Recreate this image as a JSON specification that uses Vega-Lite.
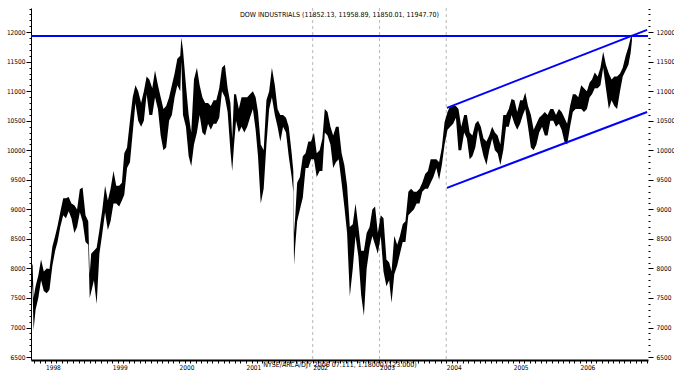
{
  "$schema": "https://vega.github.io/schema/vega-lite/v6.json",
  "width": 617,
  "height": 352,
  "autosize": "none",
  "padding": {"left": 31, "top": 8, "right": 26, "bottom": 11},
  "background": "white",
  "config": {
    "view": {"stroke": null},
    "font": "DejaVu Sans Condensed",
    "axis": {"labelFontSize": 6.5, "labelFont": "DejaVu Sans Condensed", "labelColor": "black", "tickColor": "black", "domainColor": "black", "grid": false, "titleFontWeight": "normal"}
  },
  "title": {"text": "DOW INDUSTRIALS (11852.13, 11958.89, 11850.01, 11947.70)", "fontSize": 7, "fontWeight": "normal", "offset": -12, "anchor": "middle", "color": "black", "font": "DejaVu Sans Condensed"},
  "datasets": {
    "price": [
      {"d":"1997-10-14","lo":7920,"hi":8120},
      {"d":"1997-10-23","lo":7600,"hi":8050},
      {"d":"1997-10-28","lo":6960,"hi":7500},
      {"d":"1997-11-08","lo":7300,"hi":7700},
      {"d":"1997-11-23","lo":7500,"hi":7880},
      {"d":"1997-12-08","lo":7800,"hi":8150},
      {"d":"1997-12-23","lo":7620,"hi":7950},
      {"d":"1998-01-08","lo":7580,"hi":8000},
      {"d":"1998-01-23","lo":7640,"hi":7990},
      {"d":"1998-02-08","lo":8050,"hi":8370},
      {"d":"1998-02-23","lo":8300,"hi":8550},
      {"d":"1998-03-08","lo":8450,"hi":8720},
      {"d":"1998-03-23","lo":8700,"hi":8950},
      {"d":"1998-04-08","lo":8900,"hi":9190},
      {"d":"1998-04-23","lo":8850,"hi":9190},
      {"d":"1998-05-08","lo":8970,"hi":9210},
      {"d":"1998-05-23","lo":8850,"hi":9100},
      {"d":"1998-06-08","lo":8600,"hi":9070},
      {"d":"1998-06-23","lo":8700,"hi":9000},
      {"d":"1998-07-08","lo":8950,"hi":9340},
      {"d":"1998-07-23","lo":8800,"hi":9370},
      {"d":"1998-08-08","lo":8450,"hi":8900},
      {"d":"1998-08-23","lo":8400,"hi":8800},
      {"d":"1998-08-31","lo":7500,"hi":7900},
      {"d":"1998-09-08","lo":7600,"hi":8250},
      {"d":"1998-09-23","lo":7800,"hi":8300},
      {"d":"1998-10-08","lo":7400,"hi":8350},
      {"d":"1998-10-23","lo":8250,"hi":8650},
      {"d":"1998-11-08","lo":8600,"hi":9000},
      {"d":"1998-11-23","lo":8950,"hi":9400},
      {"d":"1998-12-08","lo":8650,"hi":9150},
      {"d":"1998-12-23","lo":8800,"hi":9350},
      {"d":"1999-01-08","lo":9100,"hi":9650},
      {"d":"1999-01-23","lo":9100,"hi":9400},
      {"d":"1999-02-08","lo":9050,"hi":9400},
      {"d":"1999-02-23","lo":9150,"hi":9450},
      {"d":"1999-03-08","lo":9250,"hi":9950},
      {"d":"1999-03-23","lo":9700,"hi":10050},
      {"d":"1999-04-08","lo":9800,"hi":10500},
      {"d":"1999-04-23","lo":10300,"hi":10900},
      {"d":"1999-05-08","lo":10800,"hi":11100},
      {"d":"1999-05-23","lo":10500,"hi":11000},
      {"d":"1999-06-08","lo":10400,"hi":10800},
      {"d":"1999-06-23","lo":10500,"hi":11000},
      {"d":"1999-07-08","lo":10950,"hi":11250},
      {"d":"1999-07-23","lo":10600,"hi":11200},
      {"d":"1999-08-08","lo":10600,"hi":11050},
      {"d":"1999-08-23","lo":10900,"hi":11350},
      {"d":"1999-09-08","lo":10700,"hi":11100},
      {"d":"1999-09-23","lo":10250,"hi":10900},
      {"d":"1999-10-08","lo":10000,"hi":10700},
      {"d":"1999-10-23","lo":10050,"hi":10750},
      {"d":"1999-11-08","lo":10500,"hi":10900},
      {"d":"1999-11-23","lo":10600,"hi":11100},
      {"d":"1999-12-08","lo":10900,"hi":11300},
      {"d":"1999-12-23","lo":11100,"hi":11550},
      {"d":"2000-01-08","lo":11000,"hi":11600},
      {"d":"2000-01-14","lo":11500,"hi":11910},
      {"d":"2000-01-23","lo":10600,"hi":11700},
      {"d":"2000-02-08","lo":10400,"hi":11100},
      {"d":"2000-02-23","lo":9900,"hi":10600},
      {"d":"2000-03-08","lo":9730,"hi":10300},
      {"d":"2000-03-23","lo":10100,"hi":11200},
      {"d":"2000-04-08","lo":10300,"hi":11400},
      {"d":"2000-04-23","lo":10600,"hi":11100},
      {"d":"2000-05-08","lo":10300,"hi":10900},
      {"d":"2000-05-23","lo":10250,"hi":10800},
      {"d":"2000-06-08","lo":10450,"hi":10800},
      {"d":"2000-06-23","lo":10350,"hi":10750},
      {"d":"2000-07-08","lo":10450,"hi":10850},
      {"d":"2000-07-23","lo":10450,"hi":10850},
      {"d":"2000-08-08","lo":10550,"hi":11050},
      {"d":"2000-08-23","lo":11000,"hi":11400},
      {"d":"2000-09-08","lo":10900,"hi":11450},
      {"d":"2000-09-23","lo":10650,"hi":11050},
      {"d":"2000-10-08","lo":10000,"hi":10800},
      {"d":"2000-10-18","lo":9650,"hi":10200},
      {"d":"2000-10-28","lo":10100,"hi":10950},
      {"d":"2000-11-08","lo":10500,"hi":10950},
      {"d":"2000-11-23","lo":10300,"hi":10700},
      {"d":"2000-12-08","lo":10400,"hi":10900},
      {"d":"2000-12-23","lo":10300,"hi":10900},
      {"d":"2001-01-08","lo":10400,"hi":10900},
      {"d":"2001-01-23","lo":10550,"hi":10950},
      {"d":"2001-02-08","lo":10700,"hi":11000},
      {"d":"2001-02-23","lo":10350,"hi":10900},
      {"d":"2001-03-08","lo":9900,"hi":10650},
      {"d":"2001-03-23","lo":9100,"hi":10100},
      {"d":"2001-04-08","lo":9350,"hi":10000},
      {"d":"2001-04-23","lo":10100,"hi":10850},
      {"d":"2001-05-08","lo":10700,"hi":11000},
      {"d":"2001-05-23","lo":10900,"hi":11400},
      {"d":"2001-06-08","lo":10600,"hi":11100},
      {"d":"2001-06-23","lo":10400,"hi":10700},
      {"d":"2001-07-08","lo":10150,"hi":10600},
      {"d":"2001-07-23","lo":10400,"hi":10600},
      {"d":"2001-08-08","lo":10300,"hi":10550},
      {"d":"2001-08-23","lo":9900,"hi":10400},
      {"d":"2001-09-08","lo":9550,"hi":9950},
      {"d":"2001-09-17","lo":9300,"hi":9650},
      {"d":"2001-09-21","lo":8060,"hi":8600},
      {"d":"2001-09-28","lo":8400,"hi":8900},
      {"d":"2001-10-08","lo":8800,"hi":9450},
      {"d":"2001-10-23","lo":9000,"hi":9550},
      {"d":"2001-11-08","lo":9200,"hi":9900},
      {"d":"2001-11-23","lo":9700,"hi":9950},
      {"d":"2001-12-08","lo":9700,"hi":10150},
      {"d":"2001-12-23","lo":9850,"hi":10150},
      {"d":"2002-01-08","lo":9850,"hi":10300},
      {"d":"2002-01-23","lo":9550,"hi":9950},
      {"d":"2002-02-08","lo":9650,"hi":10000},
      {"d":"2002-02-23","lo":9650,"hi":10200},
      {"d":"2002-03-08","lo":10300,"hi":10700},
      {"d":"2002-03-23","lo":10250,"hi":10650},
      {"d":"2002-04-08","lo":10100,"hi":10400},
      {"d":"2002-04-23","lo":9700,"hi":10250},
      {"d":"2002-05-08","lo":9800,"hi":10400},
      {"d":"2002-05-23","lo":9850,"hi":10400},
      {"d":"2002-06-08","lo":9450,"hi":9950},
      {"d":"2002-06-23","lo":9050,"hi":9750},
      {"d":"2002-07-08","lo":8600,"hi":9400},
      {"d":"2002-07-23","lo":7530,"hi":8700},
      {"d":"2002-08-08","lo":8000,"hi":8750},
      {"d":"2002-08-23","lo":8550,"hi":9100},
      {"d":"2002-09-08","lo":8200,"hi":8700},
      {"d":"2002-09-23","lo":7550,"hi":8300},
      {"d":"2002-10-08","lo":7200,"hi":8300},
      {"d":"2002-10-23","lo":8000,"hi":8600},
      {"d":"2002-11-08","lo":8350,"hi":8700},
      {"d":"2002-11-23","lo":8550,"hi":9000},
      {"d":"2002-12-08","lo":8400,"hi":9050},
      {"d":"2002-12-23","lo":8250,"hi":8600},
      {"d":"2003-01-08","lo":8550,"hi":8900},
      {"d":"2003-01-23","lo":7950,"hi":8850},
      {"d":"2003-02-08","lo":7700,"hi":8150},
      {"d":"2003-02-23","lo":7800,"hi":8100},
      {"d":"2003-03-08","lo":7420,"hi":7950},
      {"d":"2003-03-23","lo":7900,"hi":8550},
      {"d":"2003-04-08","lo":8050,"hi":8400},
      {"d":"2003-04-23","lo":8250,"hi":8550},
      {"d":"2003-05-08","lo":8450,"hi":8750},
      {"d":"2003-05-23","lo":8450,"hi":8800},
      {"d":"2003-06-08","lo":8900,"hi":9300},
      {"d":"2003-06-23","lo":8950,"hi":9350},
      {"d":"2003-07-08","lo":9000,"hi":9300},
      {"d":"2003-07-23","lo":9100,"hi":9300},
      {"d":"2003-08-08","lo":9100,"hi":9350},
      {"d":"2003-08-23","lo":9300,"hi":9450},
      {"d":"2003-09-08","lo":9350,"hi":9600},
      {"d":"2003-09-23","lo":9350,"hi":9650},
      {"d":"2003-10-08","lo":9450,"hi":9850},
      {"d":"2003-10-23","lo":9550,"hi":9850},
      {"d":"2003-11-08","lo":9700,"hi":9850},
      {"d":"2003-11-23","lo":9500,"hi":9800},
      {"d":"2003-12-08","lo":9750,"hi":10050},
      {"d":"2003-12-23","lo":10100,"hi":10480},
      {"d":"2004-01-08","lo":10350,"hi":10650},
      {"d":"2004-01-23","lo":10400,"hi":10750},
      {"d":"2004-02-08","lo":10450,"hi":10750},
      {"d":"2004-02-23","lo":10550,"hi":10750},
      {"d":"2004-03-08","lo":10000,"hi":10700},
      {"d":"2004-03-23","lo":10000,"hi":10400},
      {"d":"2004-04-08","lo":10300,"hi":10600},
      {"d":"2004-04-23","lo":10200,"hi":10600},
      {"d":"2004-05-08","lo":9850,"hi":10300},
      {"d":"2004-05-23","lo":9900,"hi":10250},
      {"d":"2004-06-08","lo":10050,"hi":10450},
      {"d":"2004-06-23","lo":10350,"hi":10500},
      {"d":"2004-07-08","lo":10100,"hi":10400},
      {"d":"2004-07-23","lo":9900,"hi":10200},
      {"d":"2004-08-08","lo":9750,"hi":10150},
      {"d":"2004-08-23","lo":10000,"hi":10250},
      {"d":"2004-09-08","lo":10200,"hi":10400},
      {"d":"2004-09-23","lo":10000,"hi":10300},
      {"d":"2004-10-08","lo":9950,"hi":10250},
      {"d":"2004-10-23","lo":9750,"hi":10100},
      {"d":"2004-11-08","lo":10000,"hi":10600},
      {"d":"2004-11-23","lo":10400,"hi":10600},
      {"d":"2004-12-08","lo":10400,"hi":10700},
      {"d":"2004-12-23","lo":10600,"hi":10870},
      {"d":"2005-01-08","lo":10450,"hi":10850},
      {"d":"2005-01-23","lo":10350,"hi":10650},
      {"d":"2005-02-08","lo":10450,"hi":10850},
      {"d":"2005-02-23","lo":10600,"hi":10850},
      {"d":"2005-03-08","lo":10700,"hi":10980},
      {"d":"2005-03-23","lo":10400,"hi":10750},
      {"d":"2005-04-08","lo":10050,"hi":10600},
      {"d":"2005-04-23","lo":10000,"hi":10350},
      {"d":"2005-05-08","lo":10100,"hi":10450},
      {"d":"2005-05-23","lo":10300,"hi":10550},
      {"d":"2005-06-08","lo":10400,"hi":10600},
      {"d":"2005-06-23","lo":10250,"hi":10650},
      {"d":"2005-07-08","lo":10250,"hi":10600},
      {"d":"2005-07-23","lo":10500,"hi":10700},
      {"d":"2005-08-08","lo":10500,"hi":10700},
      {"d":"2005-08-23","lo":10400,"hi":10600},
      {"d":"2005-09-08","lo":10450,"hi":10700},
      {"d":"2005-09-23","lo":10350,"hi":10650},
      {"d":"2005-10-08","lo":10150,"hi":10550},
      {"d":"2005-10-23","lo":10100,"hi":10450},
      {"d":"2005-11-08","lo":10400,"hi":10750},
      {"d":"2005-11-23","lo":10650,"hi":10950},
      {"d":"2005-12-08","lo":10700,"hi":10950},
      {"d":"2005-12-23","lo":10700,"hi":10900},
      {"d":"2006-01-08","lo":10700,"hi":11100},
      {"d":"2006-01-23","lo":10650,"hi":11050},
      {"d":"2006-02-08","lo":10700,"hi":11000},
      {"d":"2006-02-23","lo":10900,"hi":11150},
      {"d":"2006-03-08","lo":10950,"hi":11200},
      {"d":"2006-03-23","lo":11050,"hi":11320},
      {"d":"2006-04-08","lo":11050,"hi":11250},
      {"d":"2006-04-23","lo":11100,"hi":11400},
      {"d":"2006-05-08","lo":11400,"hi":11670},
      {"d":"2006-05-23","lo":11050,"hi":11450},
      {"d":"2006-06-08","lo":10700,"hi":11300},
      {"d":"2006-06-23","lo":10850,"hi":11200},
      {"d":"2006-07-08","lo":10750,"hi":11250},
      {"d":"2006-07-23","lo":10700,"hi":11250},
      {"d":"2006-08-08","lo":11000,"hi":11300},
      {"d":"2006-08-23","lo":11250,"hi":11400},
      {"d":"2006-09-08","lo":11350,"hi":11600},
      {"d":"2006-09-23","lo":11450,"hi":11750},
      {"d":"2006-10-05","lo":11650,"hi":11900},
      {"d":"2006-10-12","lo":11850,"hi":11960}
    ],
    "blue": [
      {"id":"h","d":"1997-10-14","v":11935},
      {"id":"h","d":"2007-01-08","v":11935},
      {"id":"u","d":"2004-01-05","v":10720},
      {"id":"u","d":"2007-01-03","v":12040},
      {"id":"l","d":"2004-01-05","v":9365},
      {"id":"l","d":"2007-01-03","v":10650}
    ],
    "grid": [
      {"d":"2002-01-01"},
      {"d":"2003-01-01"},
      {"d":"2004-01-01"}
    ]
  },
  "layer": [
    {
      "data": {"name": "grid"},
      "mark": {"type": "rule", "color": "#b8b8b8", "strokeDash": [3, 3], "strokeWidth": 1},
      "encoding": {
        "x": {
          "field": "d", "type": "temporal",
          "scale": {"domain": ["1997-10-14", "2007-01-08"]},
          "axis": {
            "title": "NYSE/ARCA/DJY 2006 07.111, 1.18000 (123.000)",
            "titleFontSize": 7, "titleY": 4, "titleBaseline": "middle", "titleColor": "black", "titleFont": "DejaVu Sans Condensed",
            "tickCount": {"interval": "month", "step": 1},
            "labelExpr": "month(datum.value) == 0 && year(datum.value) < 2007 ? timeFormat(datum.value, '%Y') : ''",
            "labelAlign": "left", "labelDx": 2, "labelOverlap": false, "labelPadding": 1,
            "tickSize": 3, "domainWidth": 2, "labelFlush": false
          }
        }
      }
    },
    {
      "data": {"name": "price"},
      "mark": {"type": "area", "color": "black", "interpolate": "linear"},
      "encoding": {
        "x": {"field": "d", "type": "temporal"},
        "y": {
          "field": "lo", "type": "quantitative",
          "scale": {"domain": [6450, 12410], "nice": false, "zero": false},
          "axis": {
            "title": null,
            "values": [6500,6600,6700,6800,6900,7000,7100,7200,7300,7400,7500,7600,7700,7800,7900,8000,8100,8200,8300,8400,8500,8600,8700,8800,8900,9000,9100,9200,9300,9400,9500,9600,9700,9800,9900,10000,10100,10200,10300,10400,10500,10600,10700,10800,10900,11000,11100,11200,11300,11400,11500,11600,11700,11800,11900,12000,12100,12200,12300,12400],
            "labelExpr": "datum.value % 500 === 0 ? format(datum.value, 'd') : ''",
            "tickSize": {"condition": {"test": "datum.value % 500 === 0", "value": 5}, "value": 2},
            "labelPadding": 1, "labelOverlap": false, "labelBaseline": "middle"
          }
        },
        "y2": {"field": "hi"}
      }
    },
    {
      "data": {"name": "blue"},
      "mark": {"type": "line", "color": "#0000ff", "strokeWidth": 2},
      "encoding": {
        "x": {"field": "d", "type": "temporal"},
        "y": {
          "field": "v", "type": "quantitative",
          "scale": {"domain": [6450, 12410], "nice": false, "zero": false},
          "axis": {
            "orient": "right", "title": null, "domain": false,
            "values": [6500,6600,6700,6800,6900,7000,7100,7200,7300,7400,7500,7600,7700,7800,7900,8000,8100,8200,8300,8400,8500,8600,8700,8800,8900,9000,9100,9200,9300,9400,9500,9600,9700,9800,9900,10000,10100,10200,10300,10400,10500,10600,10700,10800,10900,11000,11100,11200,11300,11400,11500,11600,11700,11800,11900,12000,12100,12200,12300,12400],
            "labelExpr": "datum.value % 500 === 0 ? format(datum.value, 'd') : ''",
            "tickSize": {"condition": {"test": "datum.value % 500 === 0", "value": 5}, "value": 2},
            "labelPadding": 3, "labelOverlap": false, "labelBaseline": "middle"
          }
        },
        "detail": {"field": "id"}
      }
    }
  ],
  "resolve": {"scale": {"y": "independent"}, "axis": {"y": "independent"}}
}
